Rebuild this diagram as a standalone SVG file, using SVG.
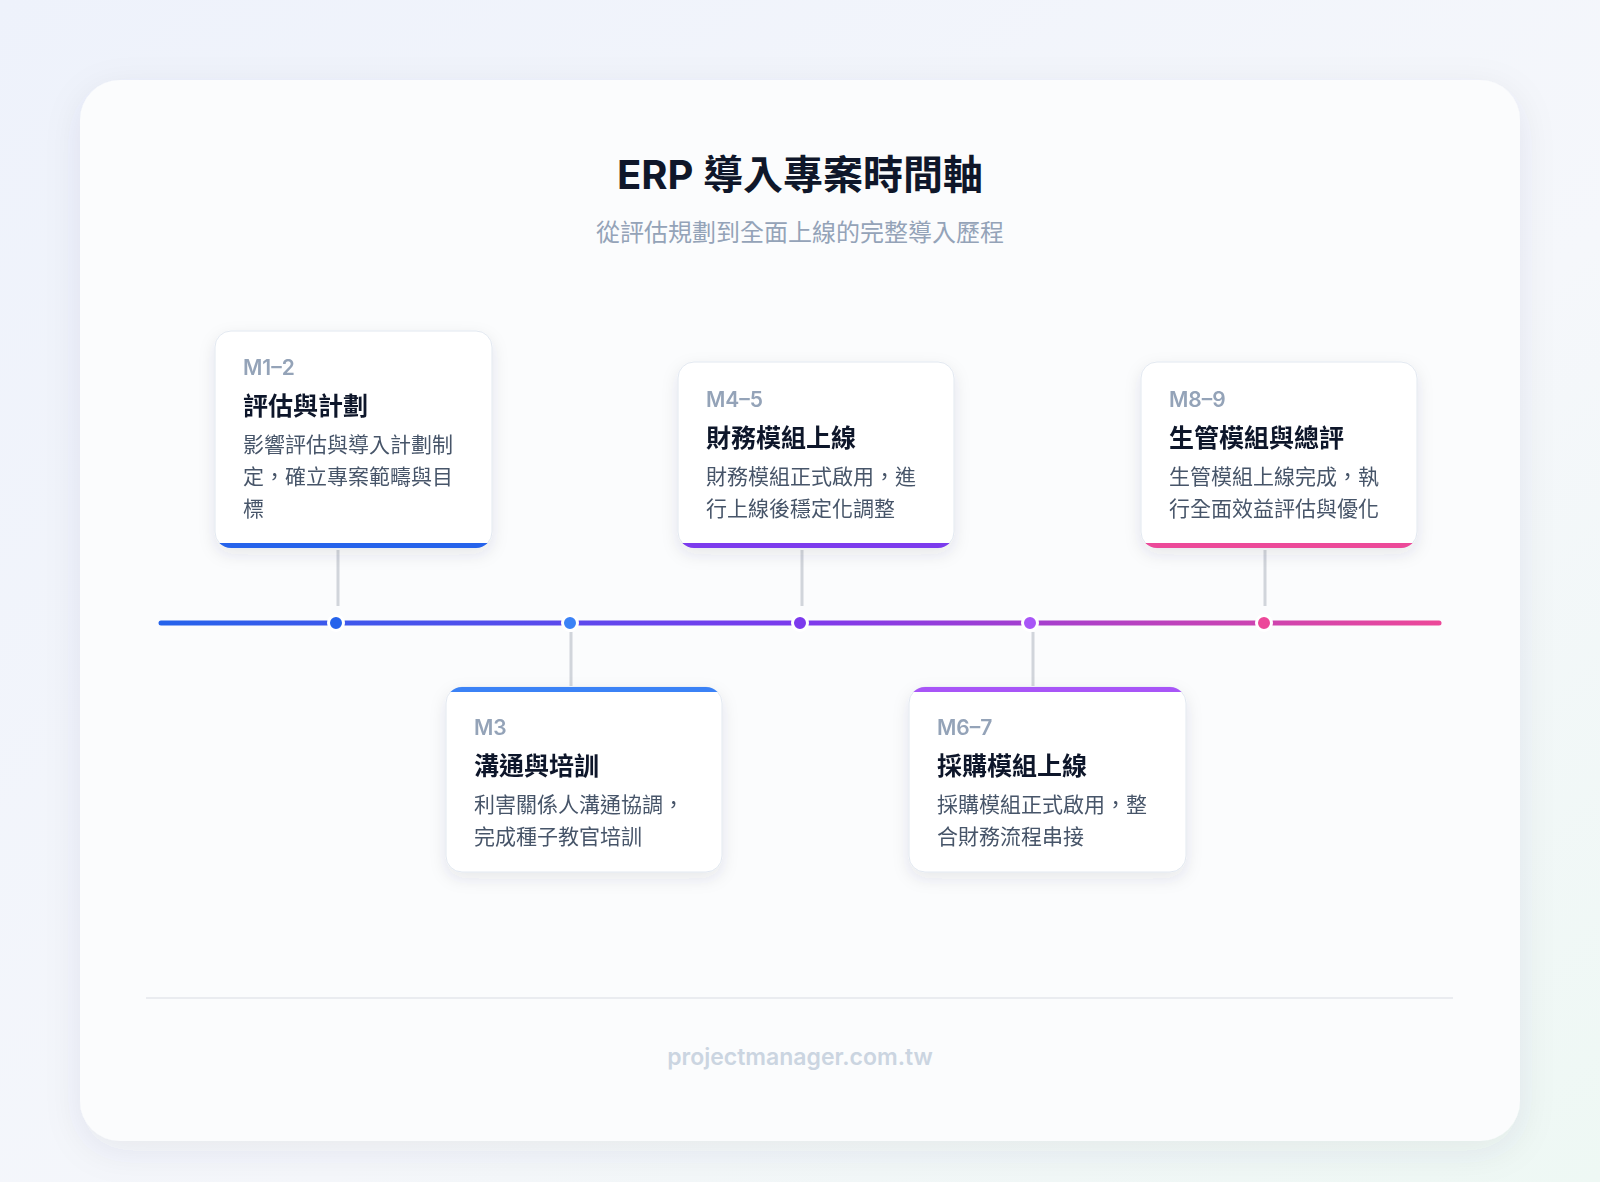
<svg xmlns="http://www.w3.org/2000/svg" width="1600" height="1182" viewBox="0 0 1600 1182">
<defs>
<linearGradient id="bg" x1="0" y1="0" x2="1" y2="1"><stop offset="0" stop-color="#eef2fb"/><stop offset="0.6" stop-color="#f5f7fb"/><stop offset="1" stop-color="#eef8f4"/></linearGradient>
<linearGradient id="tl" gradientUnits="userSpaceOnUse" x1="161" y1="0" x2="1439" y2="0"><stop offset="0" stop-color="#2563eb"/><stop offset="0.5" stop-color="#7c3aed"/><stop offset="1" stop-color="#ec4899"/></linearGradient>
<filter id="sh" x="-20%" y="-20%" width="140%" height="150%"><feDropShadow dx="0" dy="6" stdDeviation="8" flood-color="#334155" flood-opacity="0.10"/></filter>
<filter id="sh2" x="-10%" y="-10%" width="120%" height="120%"><feDropShadow dx="0" dy="10" stdDeviation="18" flood-color="#334155" flood-opacity="0.08"/></filter>
<clipPath id="c1"><rect x="215" y="331" width="277" height="217" rx="16"/></clipPath>
<clipPath id="c2"><rect x="678" y="362" width="276" height="186" rx="16"/></clipPath>
<clipPath id="c3"><rect x="1141" y="362" width="276" height="186" rx="16"/></clipPath>
<clipPath id="c4"><rect x="446" y="687" width="276" height="185" rx="16"/></clipPath>
<clipPath id="c5"><rect x="909" y="687" width="277" height="185" rx="16"/></clipPath>
</defs>
<style>
text{font-family:"Inter","Noto Sans CJK TC","Noto Sans",sans-serif}
.lab{font-size:21px;fill:#94a3b8;font-weight:600}
.tit{font-size:25px;fill:#0f172a;font-weight:700}
.bod{font-size:21px;fill:#475569}
.card{fill:#fff;stroke:#e2e8f0;stroke-width:1}
.stem{stroke:#d1d5db;stroke-width:3}
.dot{stroke:#fff;stroke-width:3}
</style>
<rect width="1600" height="1182" fill="url(#bg)"/>
<rect x="80" y="80" width="1440" height="1061" rx="40" fill="#fbfcfd" filter="url(#sh2)"/>
<text x="800" y="189" text-anchor="middle" font-size="40" font-weight="700" fill="#0f172a">ERP 導入專案時間軸</text>
<text x="800" y="241" text-anchor="middle" font-size="24" fill="#94a3b8">從評估規劃到全面上線的完整導入歷程</text>
<g id="connectors">
<line x1="161" y1="623" x2="1439" y2="623" stroke="url(#tl)" stroke-width="5" stroke-linecap="round"/>
<line class="stem" x1="338" y1="550" x2="338" y2="606"/>
<line class="stem" x1="802" y1="550" x2="802" y2="606"/>
<line class="stem" x1="1265" y1="550" x2="1265" y2="606"/>
<line class="stem" x1="571" y1="632" x2="571" y2="686"/>
<line class="stem" x1="1033" y1="632" x2="1033" y2="686"/>
<circle class="dot" cx="336" cy="623" r="7.5" fill="#2563eb"/>
<circle class="dot" cx="570" cy="623" r="7.5" fill="#3b82f6"/>
<circle class="dot" cx="800" cy="623" r="7.5" fill="#7c3aed"/>
<circle class="dot" cx="1030" cy="623" r="7.5" fill="#a855f7"/>
<circle class="dot" cx="1264" cy="623" r="7.5" fill="#ec4899"/>
</g>
<g id="n1" filter="url(#sh)">
<rect class="card" x="215" y="331" width="277" height="217" rx="16"/>
<rect x="215" y="543" width="277" height="6" fill="#2563eb" clip-path="url(#c1)"/>
<text class="lab" x="243" y="375">M1–2</text>
<text class="tit" x="243" y="415">評估與計劃</text>
<text class="bod" x="243" y="452">影響評估與導入計劃制</text>
<text class="bod" x="243" y="484">定，確立專案範疇與目</text>
<text class="bod" x="243" y="516">標</text>
</g>
<g id="n2" filter="url(#sh)">
<rect class="card" x="678" y="362" width="276" height="186" rx="16"/>
<rect x="678" y="543" width="276" height="6" fill="#7c3aed" clip-path="url(#c2)"/>
<text class="lab" x="706" y="407">M4–5</text>
<text class="tit" x="706" y="447">財務模組上線</text>
<text class="bod" x="706" y="484">財務模組正式啟用，進</text>
<text class="bod" x="706" y="516">行上線後穩定化調整</text>
</g>
<g id="n3" filter="url(#sh)">
<rect class="card" x="1141" y="362" width="276" height="186" rx="16"/>
<rect x="1141" y="543" width="276" height="6" fill="#ec4899" clip-path="url(#c3)"/>
<text class="lab" x="1169" y="407">M8–9</text>
<text class="tit" x="1169" y="447">生管模組與總評</text>
<text class="bod" x="1169" y="484">生管模組上線完成，執</text>
<text class="bod" x="1169" y="516">行全面效益評估與優化</text>
</g>
<g id="n4" filter="url(#sh)">
<rect class="card" x="446" y="687" width="276" height="185" rx="16"/>
<rect x="446" y="686" width="276" height="6" fill="#3b82f6" clip-path="url(#c4)"/>
<text class="lab" x="474" y="735">M3</text>
<text class="tit" x="474" y="775">溝通與培訓</text>
<text class="bod" x="474" y="812">利害關係人溝通協調，</text>
<text class="bod" x="474" y="844">完成種子教官培訓</text>
</g>
<g id="n5" filter="url(#sh)">
<rect class="card" x="909" y="687" width="277" height="185" rx="16"/>
<rect x="909" y="686" width="277" height="6" fill="#a855f7" clip-path="url(#c5)"/>
<text class="lab" x="937" y="735">M6–7</text>
<text class="tit" x="937" y="775">採購模組上線</text>
<text class="bod" x="937" y="812">採購模組正式啟用，整</text>
<text class="bod" x="937" y="844">合財務流程串接</text>
</g>
<line x1="146" y1="998" x2="1453" y2="998" stroke="#e5e7eb" stroke-width="1.5"/>
<text x="800" y="1065" text-anchor="middle" font-size="23" font-weight="600" fill="#cbd5e1">projectmanager.com.tw</text>
</svg>
